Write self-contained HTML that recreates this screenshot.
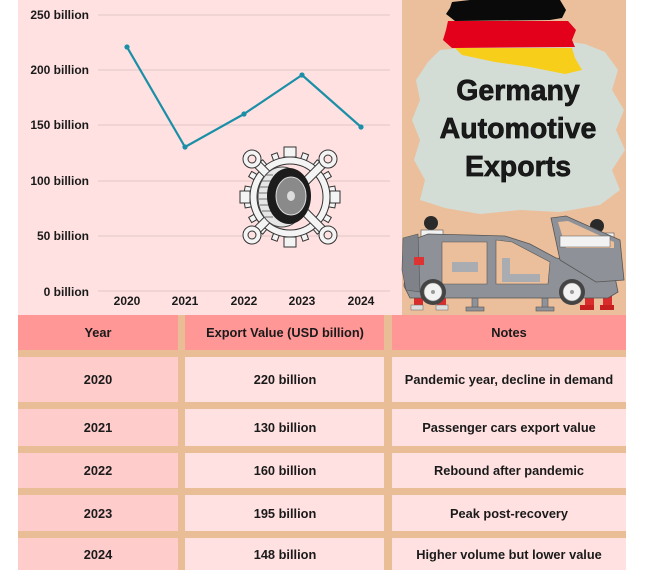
<!DOCTYPE html>
<html><head><meta charset="utf-8"><style>
html,body{margin:0;padding:0;background:#fff;}
svg{display:block;}
text{font-family:"Liberation Sans",Arial,sans-serif;font-weight:bold;fill:#1a1a1a;}
</style></head><body>
<svg width="650" height="570" viewBox="0 0 650 570" xmlns="http://www.w3.org/2000/svg">
<rect x="0" y="0" width="650" height="570" fill="#ffffff"/>
<!-- chart panel -->
<rect x="18" y="0" width="384" height="315" fill="#FFE1E1"/>
<!-- right panel -->
<rect x="402" y="0" width="224" height="315" fill="#EBBF9B"/>

<!-- gridlines -->
<g stroke="#E7CBCB" stroke-width="1.3">
<line x1="98" y1="15" x2="390" y2="15"/>
<line x1="98" y1="70" x2="390" y2="70"/>
<line x1="98" y1="125" x2="390" y2="125"/>
<line x1="98" y1="181" x2="390" y2="181"/>
<line x1="98" y1="236" x2="390" y2="236"/>
<line x1="98" y1="291" x2="390" y2="291"/>
</g>
<g font-size="12" text-anchor="end">
<text x="89" y="19">250 billion</text>
<text x="89" y="74">200 billion</text>
<text x="89" y="129">150 billion</text>
<text x="89" y="185">100 billion</text>
<text x="89" y="240">50 billion</text>
<text x="89" y="296">0 billion</text>
</g>
<g font-size="12" text-anchor="middle">
<text x="127" y="305">2020</text>
<text x="185" y="305">2021</text>
<text x="244" y="305">2022</text>
<text x="302" y="305">2023</text>
<text x="361" y="305">2024</text>
</g>

<!-- gear icon -->
<g transform="translate(290,197)">
  <g fill="#f4f4f4" stroke="#333" stroke-width="1">
    <g>
      <rect x="-3" y="-46" width="6" height="10" transform="rotate(0)"/>
      <rect x="-3" y="-46" width="6" height="10" transform="rotate(20)"/>
      <rect x="-3" y="-46" width="6" height="10" transform="rotate(40)"/>
      <rect x="-3" y="-46" width="6" height="10" transform="rotate(60)"/>
      <rect x="-3" y="-46" width="6" height="10" transform="rotate(80)"/>
      <rect x="-3" y="-46" width="6" height="10" transform="rotate(100)"/>
      <rect x="-3" y="-46" width="6" height="10" transform="rotate(120)"/>
      <rect x="-3" y="-46" width="6" height="10" transform="rotate(140)"/>
      <rect x="-3" y="-46" width="6" height="10" transform="rotate(160)"/>
      <rect x="-3" y="-46" width="6" height="10" transform="rotate(180)"/>
      <rect x="-3" y="-46" width="6" height="10" transform="rotate(200)"/>
      <rect x="-3" y="-46" width="6" height="10" transform="rotate(220)"/>
      <rect x="-3" y="-46" width="6" height="10" transform="rotate(240)"/>
      <rect x="-3" y="-46" width="6" height="10" transform="rotate(260)"/>
      <rect x="-3" y="-46" width="6" height="10" transform="rotate(280)"/>
      <rect x="-3" y="-46" width="6" height="10" transform="rotate(300)"/>
      <rect x="-3" y="-46" width="6" height="10" transform="rotate(320)"/>
      <rect x="-3" y="-46" width="6" height="10" transform="rotate(340)"/>
    </g>
    <circle r="40" fill="#f4f4f4"/>
    <circle r="33" fill="#FFE1E1"/>
    <g>
      <rect x="-4" y="-52" width="8" height="104" transform="rotate(45)"/>
      <rect x="-4" y="-52" width="8" height="104" transform="rotate(-45)"/>
      <circle cx="-38" cy="-38" r="9"/>
      <circle cx="38" cy="-38" r="9"/>
      <circle cx="-38" cy="38" r="9"/>
      <circle cx="38" cy="38" r="9"/>
      <circle cx="-38" cy="-38" r="4" fill="#FFE1E1"/>
      <circle cx="38" cy="-38" r="4" fill="#FFE1E1"/>
      <circle cx="-38" cy="38" r="4" fill="#FFE1E1"/>
      <circle cx="38" cy="38" r="4" fill="#FFE1E1"/>
      <rect x="-6" y="-50" width="12" height="10"/>
      <rect x="-6" y="40" width="12" height="10"/>
      <rect x="-50" y="-6" width="10" height="12"/>
      <rect x="40" y="-6" width="10" height="12"/>
    </g>
  </g>
  <ellipse cx="-8" cy="0" rx="24" ry="30" fill="#e6e6e6" stroke="#444" stroke-width="1"/>
  <g stroke="#555" stroke-width="0.8">
    <line x1="-30" y1="-10" x2="-20" y2="-10"/><line x1="-31" y1="-4" x2="-20" y2="-4"/>
    <line x1="-31" y1="2" x2="-20" y2="2"/><line x1="-30" y1="8" x2="-20" y2="8"/>
    <line x1="-28" y1="14" x2="-19" y2="14"/><line x1="-28" y1="-16" x2="-19" y2="-16"/>
    <line x1="-25" y1="20" x2="-17" y2="20"/><line x1="-25" y1="-22" x2="-17" y2="-22"/>
  </g>
  <ellipse cx="-1" cy="-1" rx="22" ry="28" fill="#1c1c1c"/>
  <ellipse cx="1" cy="-1" rx="15" ry="19" fill="#8a8a8a" stroke="#ddd" stroke-width="1"/>
  <ellipse cx="1" cy="-1" rx="4" ry="5" fill="#ddd"/>
</g>

<!-- line series -->
<polyline points="127,47 185,147 244,114 302,75 361,127" fill="none" stroke="#1B8FA7" stroke-width="2.2" stroke-linejoin="round"/>
<g fill="#1B8FA7">
<circle cx="127" cy="47" r="2.6"/><circle cx="185" cy="147" r="2.6"/><circle cx="244" cy="114" r="2.6"/><circle cx="302" cy="75" r="2.6"/><circle cx="361" cy="127" r="2.6"/>
</g>

<!-- right panel: blob -->
<path d="M440,50 L480,46 L520,44 L555,40 L585,44 L605,52 L618,70 L612,90 L624,110 L616,130 L625,150 L612,170 L620,190 L600,205 L560,212 L520,210 L480,214 L445,208 L420,200 L425,180 L414,160 L420,140 L412,120 L420,100 L416,80 L428,62 Z" fill="#D3DDD6"/>
<!-- flag -->
<path d="M452,2 L470,0 L560,0 L566,10 L562,18 L550,20 L455,21 L446,14 L450,8 Z" fill="#0a0a0a"/>
<path d="M448,21 L568,21 L576,30 L572,40 L575,47 L452,48 L443,40 L446,30 Z" fill="#E2001A"/>
<path d="M455,48 L572,48 L575,58 L582,70 L565,74 L530,67 L495,62 L462,55 Z" fill="#F7CE1A"/>
<!-- title -->
<g font-size="28.5" text-anchor="middle" stroke="#111" stroke-width="0.7">
<text x="518" y="100" fill="#111">Germany</text>
<text x="518" y="138" fill="#111">Automotive</text>
<text x="518" y="176" fill="#111">Exports</text>
</g>

<!-- car illustration -->
<g>
  <g fill="#8f9399" stroke="#555" stroke-width="0.6">
    <rect x="472" y="298" width="6" height="10"/><rect x="466" y="307" width="18" height="4"/>
    <rect x="542" y="298" width="6" height="10"/><rect x="536" y="307" width="18" height="4"/>
  </g>
  <circle cx="431" cy="223" r="7" fill="#2a2a2a"/>
  <rect x="421" y="230" width="22" height="20" fill="#f2f2f2" stroke="#555" stroke-width="0.6"/>
  <rect x="414" y="296" width="9" height="10" fill="#d92c2c"/>
  <rect x="437" y="296" width="9" height="10" fill="#d92c2c"/>
  <rect x="411" y="305" width="12" height="5" fill="#ddd" stroke="#666" stroke-width="0.5"/>
  <rect x="436" y="305" width="12" height="5" fill="#ddd" stroke="#666" stroke-width="0.5"/>
  <circle cx="597" cy="226" r="7" fill="#2a2a2a"/>
  <rect x="562" y="233" width="52" height="12" fill="#f2f2f2" stroke="#555" stroke-width="0.6"/>
  <rect x="585" y="296" width="9" height="10" fill="#d92c2c"/>
  <rect x="603" y="296" width="9" height="10" fill="#d92c2c"/>
  <rect x="580" y="305" width="14" height="5" fill="#c51f1f"/>
  <rect x="600" y="305" width="14" height="5" fill="#c51f1f"/>
  <path d="M406,262 L412,240 L428,234 L470,235 L505,236 L530,244 L556,258 L598,264 L614,272 L618,292 L608,298 L410,298 L404,286 Z" fill="#8E9197" stroke="#555" stroke-width="0.8"/>
  <path d="M442,242 L487,242 L487,284 L442,284 Z" fill="#EBBF9B" stroke="#555" stroke-width="0.6"/>
  <path d="M496,240 L512,242 L550,262 L548,284 L496,284 Z" fill="#EBBF9B" stroke="#555" stroke-width="0.6"/>
  <rect x="452" y="262" width="26" height="10" fill="#a9acb1"/>
  <rect x="502" y="258" width="8" height="24" fill="#a9acb1"/>
  <rect x="510" y="274" width="30" height="8" fill="#a9acb1"/>
  <path d="M403,238 L418,234 L420,292 L406,290 L402,270 Z" fill="#7f8288" stroke="#555" stroke-width="0.6"/>
  <rect x="414" y="257" width="10" height="8" fill="#d33" />
  <path d="M551,218 L566,216 L620,240 L624,280 L596,282 L560,260 Z" fill="#8E9197" stroke="#555" stroke-width="0.8"/>
  <path d="M558,222 L568,221 L614,242 L614,248 L566,248 Z" fill="#EBBF9B"/>
  <rect x="560" y="236" width="50" height="11" fill="#f2f2f2" stroke="#555" stroke-width="0.5"/>
  <circle cx="433" cy="292" r="13" fill="#444"/>
  <circle cx="433" cy="292" r="9" fill="#f2f2f2" stroke="#777" stroke-width="0.6"/>
  <circle cx="433" cy="292" r="2" fill="#999"/>
  <circle cx="572" cy="292" r="13" fill="#444"/>
  <circle cx="572" cy="292" r="9" fill="#f2f2f2" stroke="#777" stroke-width="0.6"/>
  <circle cx="572" cy="292" r="2" fill="#999"/>
</g>

<!-- table -->
<rect x="18" y="315" width="608" height="255" fill="#E9BD96"/>
<g fill="#FF9797">
<rect x="18" y="315" width="160" height="35"/>
<rect x="185" y="315" width="199" height="35"/>
<rect x="392" y="315" width="234" height="35"/>
</g>
<g fill="#FFCCCC">
<rect x="18" y="357" width="160" height="45"/>
<rect x="18" y="409" width="160" height="37"/>
<rect x="18" y="453" width="160" height="35"/>
<rect x="18" y="495" width="160" height="36"/>
<rect x="18" y="538" width="160" height="32"/>
</g>
<g fill="#FFE1E1">
<rect x="185" y="357" width="199" height="45"/>
<rect x="185" y="409" width="199" height="37"/>
<rect x="185" y="453" width="199" height="35"/>
<rect x="185" y="495" width="199" height="36"/>
<rect x="185" y="538" width="199" height="32"/>
<rect x="392" y="357" width="234" height="45"/>
<rect x="392" y="409" width="234" height="37"/>
<rect x="392" y="453" width="234" height="35"/>
<rect x="392" y="495" width="234" height="36"/>
<rect x="392" y="538" width="234" height="32"/>
</g>
<g font-size="12.8" text-anchor="middle">
<text x="98" y="337">Year</text>
<text x="285" y="337">Export Value (USD billion)</text>
<text x="509" y="337">Notes</text>

<text x="98" y="384">2020</text>
<text x="285" y="384">220 billion</text>
<text x="509" y="384">Pandemic year, decline in demand</text>

<text x="98" y="432">2021</text>
<text x="285" y="432">130 billion</text>
<text x="509" y="432">Passenger cars export value</text>

<text x="98" y="475">2022</text>
<text x="285" y="475">160 billion</text>
<text x="509" y="475">Rebound after pandemic</text>

<text x="98" y="518">2023</text>
<text x="285" y="518">195 billion</text>
<text x="509" y="518">Peak post-recovery</text>

<text x="98" y="559">2024</text>
<text x="285" y="559">148 billion</text>
<text x="509" y="559">Higher volume but lower value</text>
</g>
</svg>
</body></html>
